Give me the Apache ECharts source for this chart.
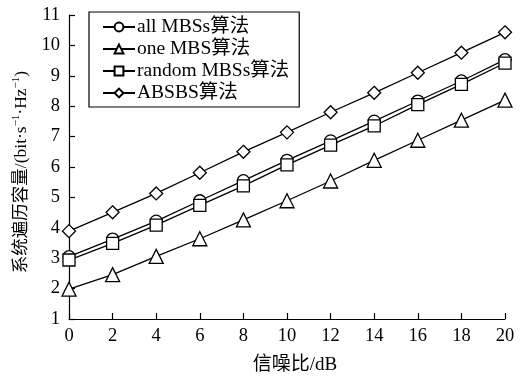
<!DOCTYPE html>
<html>
<head>
<meta charset="utf-8">
<script src="https://cdn.jsdelivr.net/npm/echarts@6/dist/echarts.min.js"></script>
<style>
  html, body { margin: 0; padding: 0; background: #fff; }
  #chart { width: 523px; height: 377px; }
</style>
</head>
<body>
<div id="chart"></div>
<script>
// SNR values (dB) on the x axis
const snr = [0, 2, 4, 6, 8, 10, 12, 14, 16, 18, 20];

// Ergodic capacity (bit·s^-1·Hz^-1) per algorithm
const allMBSs    = [3.05, 3.63, 4.22, 4.89, 5.55, 6.22, 6.86, 7.51, 8.17, 8.83, 9.53];
const oneMBS     = [1.98, 2.46, 3.06, 3.64, 4.26, 4.89, 5.54, 6.22, 6.88, 7.54, 8.20];
const randomMBSs = [2.94, 3.49, 4.09, 4.74, 5.38, 6.07, 6.72, 7.35, 8.05, 8.72, 9.42];
const absbs      = [3.89, 4.51, 5.13, 5.81, 6.50, 7.14, 7.80, 8.44, 9.10, 9.76, 10.43];

const seriesNames = ['all MBSs算法', 'one MBS算法', 'random MBSs算法', 'ABSBS算法'];
const seriesData = [allMBSs, oneMBS, randomMBSs, absbs];
const seriesSymbols = ['circle', 'triangle', 'rect', 'diamond'];
const seriesSymbolSizes = [12, 14, 12, 13];

const FONT = '"Liberation Serif", "Times New Roman", "Noto Sans CJK SC", serif';

function pairs(xs, ys) {
  return xs.map((x, i) => [x, ys[i]]);
}

const chart = echarts.init(document.getElementById('chart'), null, { renderer: 'canvas' });

chart.setOption({
  animation: false,
  backgroundColor: '#fff',
  grid: { left: 69, right: 18, top: 15, bottom: 58, containLabel: false, outerBoundsMode: 'none' },
  legend: {
    orient: 'vertical',
    left: 89,
    top: 12,
    padding: [5, 10, 4, 13],
    itemGap: 2,
    itemWidth: 32,
    itemHeight: 11,
    borderColor: '#000',
    borderWidth: 1.2,
    backgroundColor: '#fff',
    textStyle: { fontFamily: FONT, fontSize: 19.5, lineHeight: 20, color: '#000', padding: [0, 0, 0, -3] },
    data: seriesNames
  },
  xAxis: {
    type: 'value',
    min: 0,
    max: 20,
    interval: 2,
    name: '信噪比/dB',
    nameLocation: 'middle',
    nameGap: 37,
    nameTextStyle: { fontFamily: FONT, fontSize: 19, color: '#000', padding: [0, 0, 0, 16] },
    axisLine: { lineStyle: { color: '#000', width: 1.2 } },
    axisTick: { inside: true, length: 6, lineStyle: { color: '#000', width: 1.2 } },
    axisLabel: { fontFamily: FONT, fontSize: 18.5, color: '#000', margin: 8 },
    splitLine: { show: false }
  },
  yAxis: {
    type: 'value',
    min: 1,
    max: 11,
    interval: 1,
    name: '{t|系统遍历容量/(bit·s}{s|−1}{t|·Hz}{s|−1}{t|)}',
    nameLocation: 'middle',
    nameGap: 31,
    nameRotate: 90,
    nameTextStyle: {
      fontFamily: FONT,
      fontSize: 17,
      color: '#000',
      padding: [0, 10, 0, 0],
      rich: {
        t: { fontFamily: FONT, fontSize: 17.5, color: '#000', verticalAlign: 'bottom', lineHeight: 20 },
        s: { fontFamily: FONT, fontSize: 11, color: '#000', verticalAlign: 'top', lineHeight: 20 }
      }
    },
    axisLine: { show: true, lineStyle: { color: '#000', width: 1.2 } },
    axisTick: { show: true, inside: true, length: 6, lineStyle: { color: '#000', width: 1.2 } },
    axisLabel: { fontFamily: FONT, fontSize: 18.5, color: '#000', margin: 9 },
    splitLine: { show: false }
  },
  series: seriesNames.map((name, i) => ({
    name: name,
    type: 'line',
    data: pairs(snr, seriesData[i]),
    symbol: seriesSymbols[i],
    symbolSize: seriesSymbolSizes[i],
    showAllSymbol: true,
    color: '#000',
    lineStyle: { color: '#000', width: 1.3 },
    itemStyle: { color: '#fff', borderColor: '#000', borderWidth: 1.3 },
    emphasis: { disabled: true }
  }))
});
</script>
</body>
</html>
